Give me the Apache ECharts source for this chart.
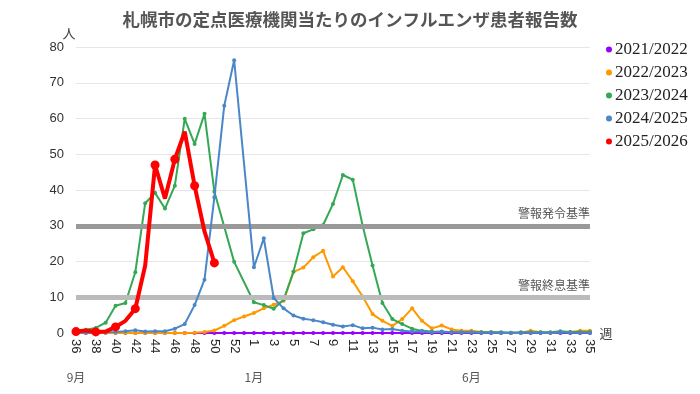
<!DOCTYPE html>
<html><head><meta charset="utf-8">
<script src="https://cdn.jsdelivr.net/npm/echarts@6/dist/echarts.min.js"></script>
<style>html,body{margin:0;padding:0;background:#fff}#c{width:700px;height:394px}</style>
</head><body><div id="c"></div>
<script>
const weeks = ['36','37','38','39','40','41','42','43','44','45','46','47','48','49','50','51','52','53',
  '1','2','3','4','5','6','7','8','9','10','11','12','13','14','15','16','17','18','19','20',
  '21','22','23','24','25','26','27','28','29','30','31','32','33','34','35'];
const monthLabels = {'36':'9月','1':'1月','23':'6月'};
const yTicks = [0,10,20,30,40,50,60,70,80];
const thresholdAlert = 30;
const thresholdEnd = 10;

const s2021 = [0,0,0,0,0,0,0,0,0,0,0,0,0,0,0,0,0,0,
  0,0,0,0,0,0,0,0,0,0,0,0,0,0,0,0,0,0,0,0,
  0,0,0,0,0,0,0,0,0,0,0,0,0,0,0];
const s2022 = [0,0,0,0,0,0,0,0,0,0,0,0,0.1,0.3,0.7,2.0,3.6,4.6,
  5.6,6.9,7.9,9.0,17.1,18.3,21.2,23.0,15.8,18.4,14.5,10.2,5.3,3.4,2.0,3.9,6.9,3.4,1.3,2.1,
  1.0,0.6,0.6,0.3,0.3,0.1,0.0,0.1,0.6,0.2,0.1,0.3,0.3,0.6,0.6];
const s2023 = [0.6,0.9,1.4,2.9,7.6,8.4,17.0,36.3,39.2,34.8,41.2,59.9,52.9,61.3,39.5,null,19.9,null,
  8.6,7.8,6.8,9.3,17.1,27.9,29.0,30.2,36.1,44.2,42.9,30.0,18.9,8.4,3.9,2.5,1.2,0.6,0.4,0.3,
  0.3,0.2,0.2,0.2,0.2,0.2,0.1,0.2,0.2,0.2,0.2,0.5,0.3,0.3,0.3];
const s2024 = [0.1,0.1,0.1,0.2,0.3,0.5,0.8,0.4,0.5,0.5,1.2,2.5,7.8,14.9,38.0,63.6,76.3,null,
  18.4,26.5,9.8,6.9,4.9,4.0,3.6,3.0,2.3,1.8,2.2,1.3,1.5,1.0,1.1,0.6,0.4,0.4,0.2,0.4,
  0.2,0.2,0.2,0.1,0.1,0.1,0.1,0.1,0.1,0.1,0.1,0.2,0.1,0.1,0.1];
const s2025 = [0.4,0.7,0.3,0.4,1.7,3.4,6.8,18.9,47.0,37.6,48.6,56.3,41.2,28.4,19.6];

const names = ['2021/2022','2022/2023','2023/2024','2024/2025','2025/2026'];
const colors = ['#9900ff','#ff9900','#34a853','#4a86c8','#ff0000'];
const values = [s2021,s2022,s2023,s2024,s2025];

const series = values.map((d,i)=>({
  name: names[i], type:'line', data:d, connectNulls:true,
  symbol:'circle', symbolSize: i===4?9:4, showSymbol:true,
  lineStyle:{width: i===4?4:2, color:colors[i]},
  itemStyle:{color:colors[i]},
  emphasis:{disabled:true}, z: 2+i
}));
series.push({
  name:'thresholds', type:'line', data:[], z:6,
  markLine:{ silent:true, symbol:'none',
    data:[
      {yAxis:thresholdAlert, lineStyle:{color:'#999',width:5,type:'solid'}, label:{formatter:'警報発令基準'}},
      {yAxis:thresholdEnd, lineStyle:{color:'#bbb',width:5,type:'solid'}, label:{formatter:'警報終息基準'}}
    ],
    label:{position:'insideEndTop', color:'#555', fontSize:12, fontFamily:'Noto Sans CJK JP', distance:[0,6]}
  }
});

const chart = echarts.init(document.getElementById('c'));
chart.setOption({
  animation:false,
  color: colors,
  title:{text:'札幌市の定点医療機関当たりのインフルエンザ患者報告数', left:'center', top:6,
    textStyle:{fontSize:17.5, fontWeight:'bold', color:'#555', fontFamily:'Noto Sans CJK JP'}},
  legend:{orient:'vertical', left:601, top:36, data:names, icon:'circle', itemWidth:6, itemHeight:6, itemGap:6,
    textStyle:{fontFamily:'Liberation Serif', fontSize:17, color:'#222', padding:[0,0,0,-2]}},
  grid:{left:76, right:110, top:47, bottom:61},
  xAxis:[{
    type:'category', data:weeks, boundaryGap:false,
    name:'週', nameLocation:'end', nameGap:8,
    nameTextStyle:{fontSize:13, color:'#444', fontFamily:'Noto Sans CJK JP', padding:[44,0,0,0], verticalAlign:'middle'},
    axisLine:{show:true, lineStyle:{color:'#ccc'}}, axisTick:{show:false},
    axisLabel:{interval:1, rotate:-90, fontSize:13, color:'#222', fontFamily:'Liberation Sans', margin:6}
  },{
    type:'category', data:weeks, boundaryGap:false, position:'bottom', offset:30,
    axisLine:{show:false}, axisTick:{show:false}, splitLine:{show:false},
    axisLabel:{interval:0, fontSize:12, color:'#555', fontFamily:'Noto Sans CJK JP', margin:8,
      formatter:(v)=>monthLabels[v]||''}
  }],
  yAxis:{type:'value', min:yTicks[0], max:yTicks[yTicks.length-1], interval:10,
    name:'人', nameLocation:'end', nameGap:7,
    nameTextStyle:{fontSize:13, color:'#444', fontFamily:'Noto Sans CJK JP', padding:[0,14,0,0]},
    axisLine:{show:false}, axisTick:{show:false},
    axisLabel:{fontSize:13, color:'#333', fontFamily:'Liberation Sans', margin:12},
    splitLine:{lineStyle:{color:'#e6e6e6'}}},
  series: series
});
</script></body></html>
